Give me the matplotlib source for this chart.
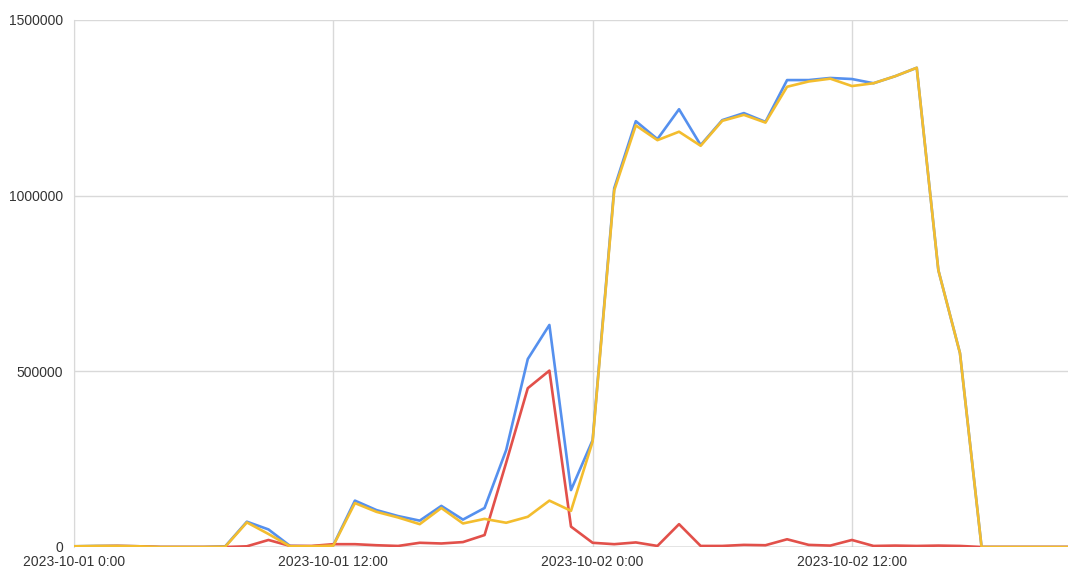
import matplotlib
matplotlib.use('Agg')
import matplotlib.pyplot as plt
import numpy as np

plt.rcParams['font.family'] = ['Liberation Sans', 'DejaVu Sans']

# hourly samples starting 2023-10-01 0:00
hours = list(range(47))

blue = [2000, 3000, 3000, 2000, 0, 0, 0, 2000, 72000, 50000,
        3000, 2000, 5000, 132000, 105000, 88000, 75000, 117000, 78000, 111000,
        276000, 535000, 632000, 162000, 304000, 1021000, 1212000, 1161000, 1246000, 1144000,
        1215000, 1235000, 1210000, 1329000, 1329000, 1335000, 1332000, 1320000, 1340000, 1364000,
        788000, 552000, 0, 0, 0, 0, 0]

red = [1000, 2000, 3000, 2000, 0, 0, 0, 0, 2000, 20000,
       3000, 3000, 8000, 8000, 5000, 3000, 12000, 10000, 14000, 34000,
       240000, 452000, 502000, 58000, 12000, 8000, 13000, 3000, 65000, 3000,
       3000, 6000, 5000, 22000, 6000, 4000, 20000, 3000, 4000, 3000,
       4000, 3000, 0, 0, 0, 0, 0]

yellow = [2000, 3000, 3000, 2000, 0, 0, 0, 1000, 70000, 37000,
          2000, 2000, 4000, 125000, 100000, 84000, 65000, 111000, 67000, 80000,
          69000, 86000, 132000, 103000, 300000, 1015000, 1200000, 1158000, 1182000, 1142000,
          1213000, 1230000, 1208000, 1310000, 1325000, 1333000, 1312000, 1320000, 1340000, 1364000,
          788000, 552000, 0, 0, 0, 0, 0]

x_ticks = [0, 12, 24, 36]
x_labels = ['2023-10-01 0:00', '2023-10-01 12:00', '2023-10-02 0:00', '2023-10-02 12:00']
y_ticks = [0, 500000, 1000000, 1500000]

BLUE = '#5590EE'
RED = '#E2504A'
YELLOW = '#F3BD2E'

fig = plt.figure(figsize=(10.68, 5.8), dpi=100)
ax = fig.add_axes([74 / 1068, 1 - 547 / 580, 1 - 74 / 1068, 527 / 580])

ax.plot(hours, blue, color=BLUE, lw=1.9, zorder=3, solid_joinstyle='round')
ax.plot(hours, red, color=RED, lw=1.9, zorder=4, solid_joinstyle='round')
ax.plot(hours, yellow, color=YELLOW, lw=1.9, zorder=5, solid_joinstyle='round')

ax.set_xlim(0, 46)
ax.set_ylim(0, 1500000)
ax.set_xticks(x_ticks)
ax.set_xticklabels(x_labels)
ax.set_yticks(y_ticks)
ax.set_yticklabels([str(v) for v in y_ticks])
ax.tick_params(length=0, labelsize=10, colors='#333333', pad=8)
ax.tick_params(axis='x', pad=6)

ax.grid(True, color='#d9d9d9', lw=1, zorder=0)
for s in ['top', 'right', 'bottom']:
    ax.spines[s].set_visible(False)
ax.spines['left'].set_color('#d9d9d9')
ax.axhline(0, color='#999999', lw=1, zorder=2)

plt.savefig('out.png', dpi=100)
